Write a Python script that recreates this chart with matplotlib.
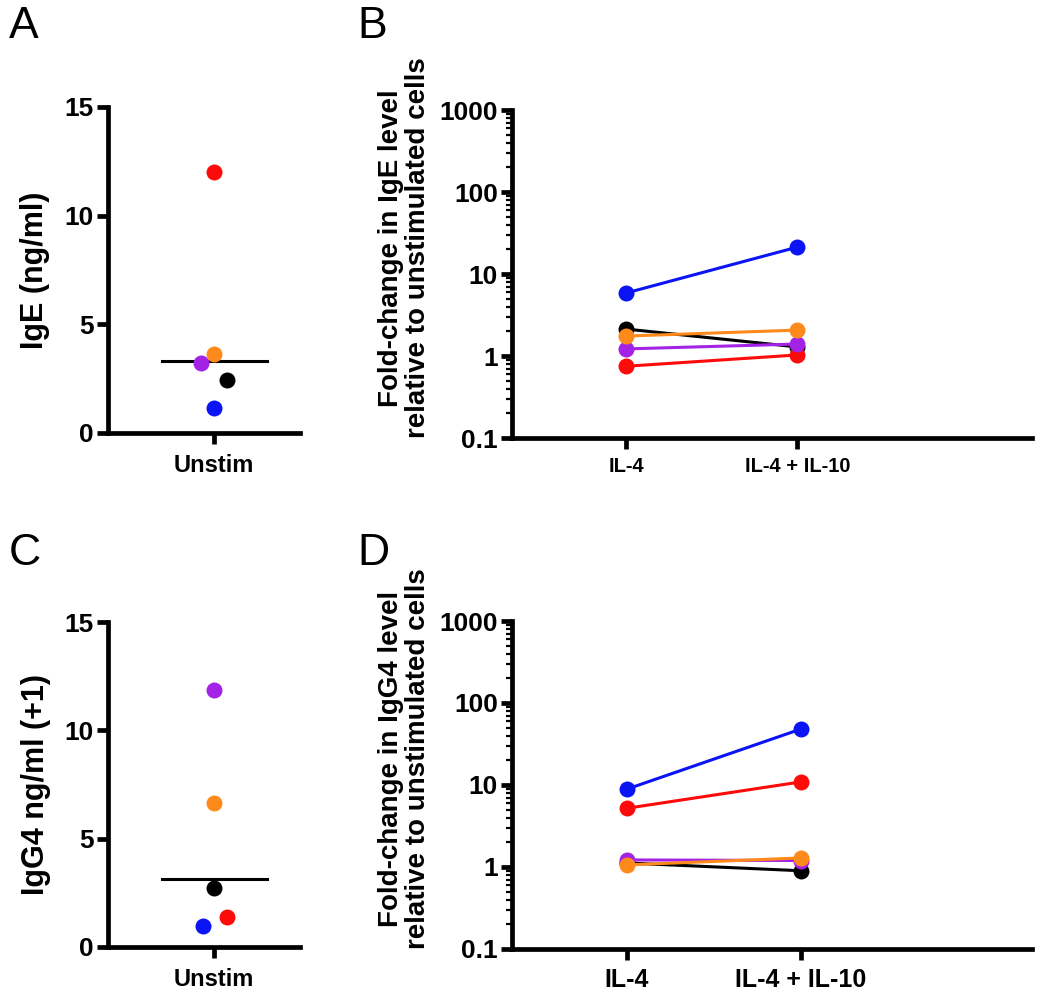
#!/usr/bin/env python3

import matplotlib as mpl
import matplotlib.pyplot as plt
from matplotlib.ticker import FixedLocator, FixedFormatter, LogLocator, NullFormatter

mpl.rcParams['font.family'] = ['Liberation Sans', 'DejaVu Sans']
mpl.rcParams['font.weight'] = 'bold'
mpl.rcParams['axes.labelweight'] = 'bold'
mpl.rcParams['axes.unicode_minus'] = False

# donors, in drawing order
donor_names = ['black', 'red', 'purple', 'orange', 'blue']
donor_colors = ['#000000', '#ff0a0a', '#a322e6', '#ff8a1c', '#0a14f5']

# A: IgE (ng/ml), unstimulated
ige_unstim = [2.44, 12.0, 3.2, 3.63, 1.15]
ige_unstim_line = 3.3
# C: IgG4 ng/ml (+1), unstimulated
igg4_unstim = [2.72, 1.38, 11.86, 6.65, 0.97]
igg4_unstim_line = 3.14

# B: fold change in IgE
conditions = ['IL-4', 'IL-4 + IL-10']
ige_fold_il4 = [2.13, 0.75, 1.22, 1.75, 5.87]
ige_fold_il4_il10 = [1.29, 1.03, 1.40, 2.07, 21.3]
# D: fold change in IgG4
igg4_fold_il4 = [1.12, 5.2, 1.22, 1.06, 8.9]
igg4_fold_il4_il10 = [0.9, 10.9, 1.2, 1.29, 48.0]

log_ticks = [0.1, 1, 10, 100, 1000]
log_ticklabels = ['0.1', '1', '10', '100', '1000']

# horizontal nudges for overlapping dots
ige_jitter = [0.068, 0.0, -0.068, 0.0, 0.0]
igg4_jitter = [0.0, 0.068, 0.0, 0.0, -0.058]

SPINE_W = 3.4


def style_axes(ax):
    ax.spines['top'].set_visible(False)
    ax.spines['right'].set_visible(False)
    ax.spines['left'].set_linewidth(SPINE_W)
    ax.spines['bottom'].set_linewidth(SPINE_W)
    ax.tick_params(axis='both', which='major', length=8, width=SPINE_W, direction='out')


def draw_unstim(ax, values, jitter, line_val, ylabel, label_x):
    style_axes(ax)
    for v, j, c in zip(values, jitter, donor_colors):
        ax.plot(j, v, 'o', color=c, markersize=11.5, markeredgewidth=0, zorder=3)
    ax.plot([-0.274, 0.274], [line_val, line_val], '-', color='black', lw=2.2, zorder=2)
    ax.set_xlim(-0.553, 0.447)
    ax.set_ylim(0, 15)
    ax.yaxis.set_major_locator(FixedLocator([0, 5, 10, 15]))
    ax.set_xticks([0])
    ax.set_xticklabels(['Unstim'], fontsize=17)
    ax.tick_params(axis='y', labelsize=19, pad=2)
    ax.tick_params(axis='x', pad=7)
    ax.set_ylabel(ylabel, fontsize=22)
    ax.yaxis.set_label_coords(label_x, 0.5)


def draw_fold(ax, il4, il4_il10, ylabel, xlabsize, xlim, label_y):
    style_axes(ax)
    for a, b, c in zip(il4, il4_il10, donor_colors):
        ax.plot([0, 1], [a, b], '-o', color=c, lw=2.2, markersize=11.5, markeredgewidth=0)
    ax.set_yscale('log')
    ax.set_ylim(0.1, 1000)
    ax.set_xlim(xlim)
    ax.yaxis.set_major_locator(FixedLocator(log_ticks))
    ax.yaxis.set_major_formatter(FixedFormatter(log_ticklabels))
    ax.yaxis.set_minor_locator(LogLocator(base=10, subs=range(2, 10), numticks=20))
    ax.yaxis.set_minor_formatter(NullFormatter())
    ax.tick_params(axis='y', which='minor', length=4, width=1.6)
    ax.tick_params(axis='y', labelsize=19, pad=2)
    ax.set_xticks([0, 1])
    ax.set_xticklabels(conditions, fontsize=xlabsize)
    ax.tick_params(axis='x', pad=6)
    ax.set_ylabel(ylabel, fontsize=20, linespacing=1.05)
    ax.yaxis.set_label_coords(-0.156, label_y)


fig = plt.figure(figsize=(10.5, 9.99), dpi=100)

axA = fig.add_axes([108/1050, 1-433/999, 192/1050, 326/999])
axB = fig.add_axes([512/1050, 1-438/999, 520/1050, 328/999])
axC = fig.add_axes([108/1050, 1-947/999, 192/1050, 325/999])
axD = fig.add_axes([512/1050, 1-949/999, 520/1050, 328/999])

draw_unstim(axA, ige_unstim, ige_jitter, ige_unstim_line, 'IgE (ng/ml)', -0.30)
draw_unstim(axC, igg4_unstim, igg4_jitter, igg4_unstim_line, 'IgG4 ng/ml (+1)', -0.295)
draw_fold(axB, ige_fold_il4, ige_fold_il4_il10,
          'Fold-change in IgE level\nrelative to unstimulated cells', 14.5, (-0.667, 2.37), 0.58)
draw_fold(axD, igg4_fold_il4, igg4_fold_il4_il10,
          'Fold-change in IgG4 level\nrelative to unstimulated cells', 18, (-0.66, 2.33), 0.58)

for letter, x, y in [('A', 9, 6), ('B', 357, 6), ('C', 9, 533), ('D', 357, 533)]:
    fig.text(x/1050, 1-y/999, letter, fontsize=32, fontweight='normal', ha='left', va='top')

fig.savefig('out.png', dpi=100)
